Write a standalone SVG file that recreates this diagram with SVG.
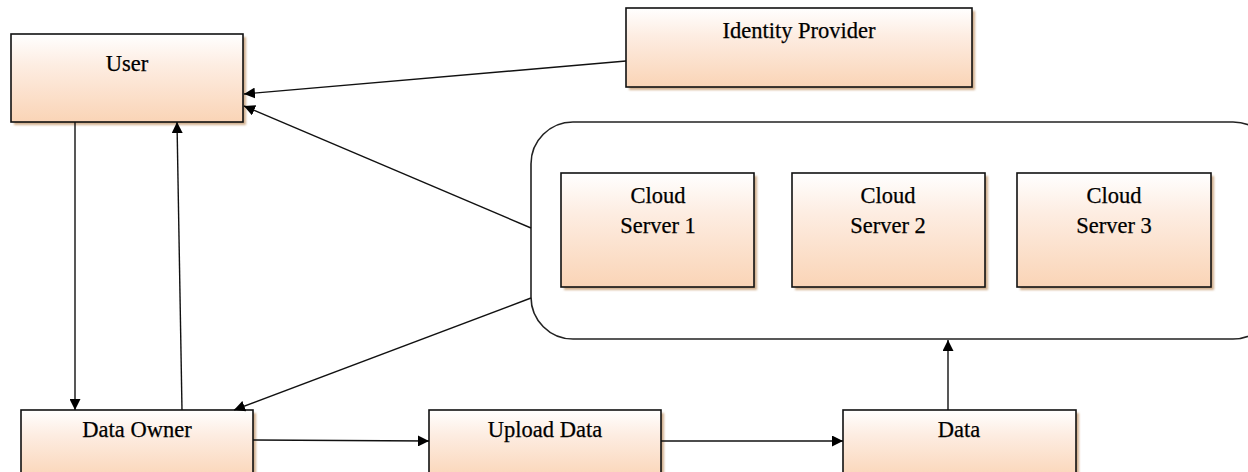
<svg xmlns="http://www.w3.org/2000/svg" width="1248" height="472" viewBox="0 0 1248 472">
<defs>
<linearGradient id="peach" x1="0" y1="0" x2="0" y2="1">
<stop offset="0" stop-color="#FFFFFF"/>
<stop offset="0.35" stop-color="#FDEDE2"/>
<stop offset="1" stop-color="#FAD4B6"/>
</linearGradient>
<marker id="arr" viewBox="0 0 10 10" refX="10" refY="5" markerWidth="11" markerHeight="11" markerUnits="userSpaceOnUse" orient="auto">
<path d="M0,0 L10,5 L0,10 Z" fill="#000"/>
</marker>
<filter id="blur" x="-5%" y="-5%" width="110%" height="110%"><feGaussianBlur stdDeviation="1"/></filter>
</defs>
<style>
.shadow{fill:#D2B08F;filter:url(#blur)}
.box{fill:url(#peach);stroke:#111;stroke-width:1.6}
.lbl{font-family:"Liberation Serif","Times New Roman",serif;font-size:22.5px;fill:#000;stroke:#000;stroke-width:0.25;text-anchor:middle}
.conn{stroke:#111;stroke-width:1.4;fill:none;marker-end:url(#arr)}
.cloud{fill:#fff;stroke:#222;stroke-width:1.6}
</style>
<rect width="1248" height="472" fill="#fff"/>

<g id="cloud-group">
<rect class="cloud" x="531" y="122" width="744" height="217" rx="42" ry="42"/>
</g>

<g id="user">
<rect class="shadow" x="14" y="37" width="232" height="88"/>
<rect class="box" x="11" y="34" width="232" height="88"/>
<text class="lbl" x="127" y="71">User</text>
</g>

<g id="identity-provider">
<rect class="shadow" x="629" y="11" width="346" height="79"/>
<rect class="box" x="626" y="8" width="346" height="79"/>
<text class="lbl" x="799" y="38">Identity Provider</text>
</g>

<g id="cloud-server-1">
<rect class="shadow" x="564" y="176" width="193" height="114"/>
<rect class="box" x="561" y="173" width="193" height="114"/>
<text class="lbl" x="658" y="203">Cloud</text>
<text class="lbl" x="658" y="233">Server 1</text>
</g>

<g id="cloud-server-2">
<rect class="shadow" x="795" y="176" width="193" height="114"/>
<rect class="box" x="792" y="173" width="193" height="114"/>
<text class="lbl" x="888" y="203">Cloud</text>
<text class="lbl" x="888" y="233">Server 2</text>
</g>

<g id="cloud-server-3">
<rect class="shadow" x="1020" y="176" width="194" height="114"/>
<rect class="box" x="1017" y="173" width="194" height="114"/>
<text class="lbl" x="1114" y="203">Cloud</text>
<text class="lbl" x="1114" y="233">Server 3</text>
</g>

<g id="data-owner">
<rect class="shadow" x="24" y="413" width="232" height="70"/>
<rect class="box" x="21" y="410" width="232" height="70"/>
<text class="lbl" x="137" y="437">Data Owner</text>
</g>

<g id="upload-data">
<rect class="shadow" x="432" y="413" width="232" height="70"/>
<rect class="box" x="429" y="410" width="232" height="70"/>
<text class="lbl" x="545" y="437">Upload Data</text>
</g>

<g id="data">
<rect class="shadow" x="846" y="413" width="233" height="70"/>
<rect class="box" x="843" y="410" width="233" height="70"/>
<text class="lbl" x="959" y="437">Data</text>
</g>

<g id="connectors">
<line class="conn" x1="626" y1="61" x2="244" y2="94"/>
<line class="conn" x1="531" y1="228" x2="244" y2="106"/>
<line class="conn" x1="531" y1="298" x2="234" y2="410"/>
<line class="conn" x1="75" y1="122" x2="75" y2="410"/>
<line class="conn" x1="182" y1="410" x2="177" y2="122"/>
<line class="conn" x1="253" y1="440" x2="429" y2="441"/>
<line class="conn" x1="661" y1="441" x2="843" y2="441"/>
<line class="conn" x1="948" y1="410" x2="948" y2="340"/>
</g>
</svg>
